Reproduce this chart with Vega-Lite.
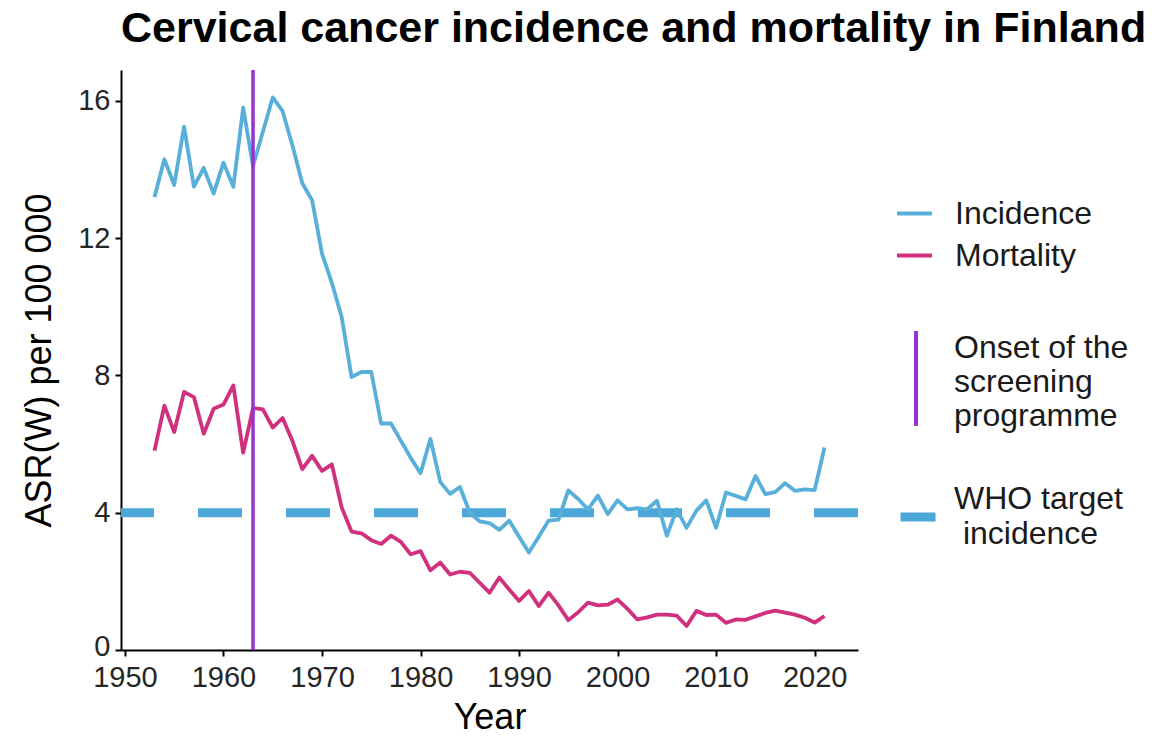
{
  "$schema": "https://vega.github.io/schema/vega-lite/v6.json",
  "width": 737,
  "height": 580,
  "autosize": {"type": "none"},
  "padding": {"left": 121, "top": 70, "right": 310, "bottom": 87},
  "background": "white",
  "title": {
    "text": "Cervical cancer incidence and mortality in Finland",
    "anchor": "start",
    "frame": "group",
    "font": "Liberation Sans",
    "fontSize": 43,
    "fontWeight": "bold",
    "color": "#000000",
    "offset": 17
  },
  "config": {
    "view": {"stroke": null},
    "font": "Liberation Sans",
    "axis": {
      "grid": false,
      "domainColor": "#000000",
      "domainWidth": 2,
      "tickColor": "#000000",
      "tickWidth": 2,
      "tickSize": 6,
      "labelFont": "Liberation Sans",
      "labelFontSize": 29,
      "labelColor": "#262626",
      "titleFont": "Liberation Sans",
      "titleFontSize": 36,
      "titleFontWeight": "normal",
      "titleColor": "#000000"
    },
    "legend": {
      "padding": 0,
      "labelFont": "Liberation Sans",
      "labelFontSize": 32,
      "labelColor": "#1a1a1a",
      "labelLimit": 500,
      "rowPadding": 6,
      "symbolOffset": 0
    }
  },
  "resolve": {"scale": {"color": "independent"}},
  "layer": [
    {
      "data": {"values": [{"target": 4, "label": "WHO target incidence"}]},
      "mark": {"type": "rule", "strokeWidth": 9, "strokeDash": [44, 44]},
      "encoding": {
        "y": {"field": "target", "type": "quantitative", "title": "ASR(W) per 100 000",
              "scale": {"domain": [0, 16.9], "nice": false, "zero": false}},
        "color": {
          "field": "label", "type": "nominal",
          "scale": {"range": ["#4BA7D8"]},
          "legend": {
            "title": null, "orient": "none", "legendX": 775, "legendY": 407,
            "symbolType": "M-1,1.03L1,1.03", "symbolSize": 1225, "symbolStrokeWidth": 9,
            "labelOffset": 14,
            "labelExpr": "['WHO target', '\u200b\u00a0incidence']",
            "encode": {"labels": {"update": {"lineHeight": {"value": 35}}}}
          }
        }
      }
    },
    {
      "data": {"values": [
        {"year": 1953, "series": "Incidence", "value": 13.2},
        {"year": 1954, "series": "Incidence", "value": 14.3},
        {"year": 1955, "series": "Incidence", "value": 13.55},
        {"year": 1956, "series": "Incidence", "value": 15.25},
        {"year": 1957, "series": "Incidence", "value": 13.5},
        {"year": 1958, "series": "Incidence", "value": 14.05},
        {"year": 1959, "series": "Incidence", "value": 13.3},
        {"year": 1960, "series": "Incidence", "value": 14.2},
        {"year": 1961, "series": "Incidence", "value": 13.5},
        {"year": 1962, "series": "Incidence", "value": 15.8},
        {"year": 1963, "series": "Incidence", "value": 14.1},
        {"year": 1964, "series": "Incidence", "value": 15.1},
        {"year": 1965, "series": "Incidence", "value": 16.1},
        {"year": 1966, "series": "Incidence", "value": 15.7},
        {"year": 1967, "series": "Incidence", "value": 14.7},
        {"year": 1968, "series": "Incidence", "value": 13.6},
        {"year": 1969, "series": "Incidence", "value": 13.1},
        {"year": 1970, "series": "Incidence", "value": 11.55},
        {"year": 1971, "series": "Incidence", "value": 10.7},
        {"year": 1972, "series": "Incidence", "value": 9.7},
        {"year": 1973, "series": "Incidence", "value": 7.95},
        {"year": 1974, "series": "Incidence", "value": 8.1},
        {"year": 1975, "series": "Incidence", "value": 8.1},
        {"year": 1976, "series": "Incidence", "value": 6.6},
        {"year": 1977, "series": "Incidence", "value": 6.6},
        {"year": 1978, "series": "Incidence", "value": 6.1},
        {"year": 1979, "series": "Incidence", "value": 5.6},
        {"year": 1980, "series": "Incidence", "value": 5.15},
        {"year": 1981, "series": "Incidence", "value": 6.15},
        {"year": 1982, "series": "Incidence", "value": 4.9},
        {"year": 1983, "series": "Incidence", "value": 4.55},
        {"year": 1984, "series": "Incidence", "value": 4.75},
        {"year": 1985, "series": "Incidence", "value": 4.0},
        {"year": 1986, "series": "Incidence", "value": 3.75},
        {"year": 1987, "series": "Incidence", "value": 3.7},
        {"year": 1988, "series": "Incidence", "value": 3.5},
        {"year": 1989, "series": "Incidence", "value": 3.77},
        {"year": 1990, "series": "Incidence", "value": 3.3},
        {"year": 1991, "series": "Incidence", "value": 2.84},
        {"year": 1992, "series": "Incidence", "value": 3.3},
        {"year": 1993, "series": "Incidence", "value": 3.77},
        {"year": 1994, "series": "Incidence", "value": 3.8},
        {"year": 1995, "series": "Incidence", "value": 4.65},
        {"year": 1996, "series": "Incidence", "value": 4.4},
        {"year": 1997, "series": "Incidence", "value": 4.1},
        {"year": 1998, "series": "Incidence", "value": 4.5},
        {"year": 1999, "series": "Incidence", "value": 3.96},
        {"year": 2000, "series": "Incidence", "value": 4.36},
        {"year": 2001, "series": "Incidence", "value": 4.1},
        {"year": 2002, "series": "Incidence", "value": 4.13},
        {"year": 2003, "series": "Incidence", "value": 4.1},
        {"year": 2004, "series": "Incidence", "value": 4.35},
        {"year": 2005, "series": "Incidence", "value": 3.33},
        {"year": 2006, "series": "Incidence", "value": 4.1},
        {"year": 2007, "series": "Incidence", "value": 3.56},
        {"year": 2008, "series": "Incidence", "value": 4.06},
        {"year": 2009, "series": "Incidence", "value": 4.36},
        {"year": 2010, "series": "Incidence", "value": 3.56},
        {"year": 2011, "series": "Incidence", "value": 4.59},
        {"year": 2012, "series": "Incidence", "value": 4.49},
        {"year": 2013, "series": "Incidence", "value": 4.39},
        {"year": 2014, "series": "Incidence", "value": 5.07},
        {"year": 2015, "series": "Incidence", "value": 4.54},
        {"year": 2016, "series": "Incidence", "value": 4.6},
        {"year": 2017, "series": "Incidence", "value": 4.86},
        {"year": 2018, "series": "Incidence", "value": 4.64},
        {"year": 2019, "series": "Incidence", "value": 4.68},
        {"year": 2020, "series": "Incidence", "value": 4.66},
        {"year": 2021, "series": "Incidence", "value": 5.9},
        {"year": 1953, "series": "Mortality", "value": 5.81},
        {"year": 1954, "series": "Mortality", "value": 7.12},
        {"year": 1955, "series": "Mortality", "value": 6.35},
        {"year": 1956, "series": "Mortality", "value": 7.52},
        {"year": 1957, "series": "Mortality", "value": 7.37},
        {"year": 1958, "series": "Mortality", "value": 6.3},
        {"year": 1959, "series": "Mortality", "value": 7.03},
        {"year": 1960, "series": "Mortality", "value": 7.15},
        {"year": 1961, "series": "Mortality", "value": 7.71},
        {"year": 1962, "series": "Mortality", "value": 5.75},
        {"year": 1963, "series": "Mortality", "value": 7.05},
        {"year": 1964, "series": "Mortality", "value": 7.01},
        {"year": 1965, "series": "Mortality", "value": 6.48},
        {"year": 1966, "series": "Mortality", "value": 6.76},
        {"year": 1967, "series": "Mortality", "value": 6.09},
        {"year": 1968, "series": "Mortality", "value": 5.27},
        {"year": 1969, "series": "Mortality", "value": 5.66},
        {"year": 1970, "series": "Mortality", "value": 5.22},
        {"year": 1971, "series": "Mortality", "value": 5.41},
        {"year": 1972, "series": "Mortality", "value": 4.15},
        {"year": 1973, "series": "Mortality", "value": 3.45},
        {"year": 1974, "series": "Mortality", "value": 3.4},
        {"year": 1975, "series": "Mortality", "value": 3.2},
        {"year": 1976, "series": "Mortality", "value": 3.09},
        {"year": 1977, "series": "Mortality", "value": 3.33},
        {"year": 1978, "series": "Mortality", "value": 3.15},
        {"year": 1979, "series": "Mortality", "value": 2.79},
        {"year": 1980, "series": "Mortality", "value": 2.88},
        {"year": 1981, "series": "Mortality", "value": 2.32},
        {"year": 1982, "series": "Mortality", "value": 2.55},
        {"year": 1983, "series": "Mortality", "value": 2.2},
        {"year": 1984, "series": "Mortality", "value": 2.28},
        {"year": 1985, "series": "Mortality", "value": 2.25},
        {"year": 1986, "series": "Mortality", "value": 1.96},
        {"year": 1987, "series": "Mortality", "value": 1.67},
        {"year": 1988, "series": "Mortality", "value": 2.11},
        {"year": 1989, "series": "Mortality", "value": 1.76},
        {"year": 1990, "series": "Mortality", "value": 1.43},
        {"year": 1991, "series": "Mortality", "value": 1.72},
        {"year": 1992, "series": "Mortality", "value": 1.28},
        {"year": 1993, "series": "Mortality", "value": 1.67},
        {"year": 1994, "series": "Mortality", "value": 1.3},
        {"year": 1995, "series": "Mortality", "value": 0.87},
        {"year": 1996, "series": "Mortality", "value": 1.1},
        {"year": 1997, "series": "Mortality", "value": 1.38},
        {"year": 1998, "series": "Mortality", "value": 1.3},
        {"year": 1999, "series": "Mortality", "value": 1.32},
        {"year": 2000, "series": "Mortality", "value": 1.47},
        {"year": 2001, "series": "Mortality", "value": 1.2},
        {"year": 2002, "series": "Mortality", "value": 0.89},
        {"year": 2003, "series": "Mortality", "value": 0.95},
        {"year": 2004, "series": "Mortality", "value": 1.03},
        {"year": 2005, "series": "Mortality", "value": 1.03},
        {"year": 2006, "series": "Mortality", "value": 1.0},
        {"year": 2007, "series": "Mortality", "value": 0.7},
        {"year": 2008, "series": "Mortality", "value": 1.14},
        {"year": 2009, "series": "Mortality", "value": 1.02},
        {"year": 2010, "series": "Mortality", "value": 1.03},
        {"year": 2011, "series": "Mortality", "value": 0.79},
        {"year": 2012, "series": "Mortality", "value": 0.89},
        {"year": 2013, "series": "Mortality", "value": 0.88},
        {"year": 2014, "series": "Mortality", "value": 0.98},
        {"year": 2015, "series": "Mortality", "value": 1.08},
        {"year": 2016, "series": "Mortality", "value": 1.15},
        {"year": 2017, "series": "Mortality", "value": 1.09},
        {"year": 2018, "series": "Mortality", "value": 1.03},
        {"year": 2019, "series": "Mortality", "value": 0.94},
        {"year": 2020, "series": "Mortality", "value": 0.8},
        {"year": 2021, "series": "Mortality", "value": 0.99}
      ]},
      "mark": {"type": "line", "strokeWidth": 3.8, "strokeJoin": "round"},
      "encoding": {
        "x": {"field": "year", "type": "quantitative", "title": "Year",
              "scale": {"domain": [1949.6, 2024.4], "nice": false, "zero": false},
              "axis": {"values": [1950, 1960, 1970, 1980, 1990, 2000, 2010, 2020], "format": "d", "labelPadding": 7, "titlePadding": 8}},
        "y": {"field": "value", "type": "quantitative", "title": "ASR(W) per 100 000",
              "scale": {"domain": [0, 16.9], "nice": false, "zero": false},
              "axis": {"values": [0, 4, 8, 12, 16], "labelPadding": 5, "titlePadding": 19,
                       "labelOffset": {"condition": {"test": "datum.value == 0", "value": -4}, "value": 0}}},
        "color": {
          "field": "series", "type": "nominal",
          "scale": {"domain": ["Incidence", "Mortality"], "range": ["#58AFDA", "#D0307D"]},
          "legend": {
            "title": null, "orient": "none", "legendX": 774, "legendY": 124,
            "symbolType": "stroke", "symbolSize": 1225, "symbolStrokeWidth": 4,
            "labelOffset": 21
          }
        }
      }
    },
    {
      "data": {"values": [{"year": 1963, "label": "Onset of the screening programme"}]},
      "mark": {"type": "rule", "strokeWidth": 3.5},
      "encoding": {
        "x": {"field": "year", "type": "quantitative", "title": "Year"},
        "color": {
          "field": "label", "type": "nominal",
          "scale": {"range": ["#9633D0"]},
          "legend": {
            "title": null, "orient": "none", "legendX": 777, "legendY": 260,
            "symbolType": "M0,-1.07L0,4.92", "symbolSize": 1003, "symbolStrokeWidth": 4,
            "labelOffset": 20,
            "labelExpr": "['Onset of the', 'screening', 'programme']",
            "encode": {"labels": {"update": {"lineHeight": {"value": 34}}}}
          }
        }
      }
    }
  ]
}
